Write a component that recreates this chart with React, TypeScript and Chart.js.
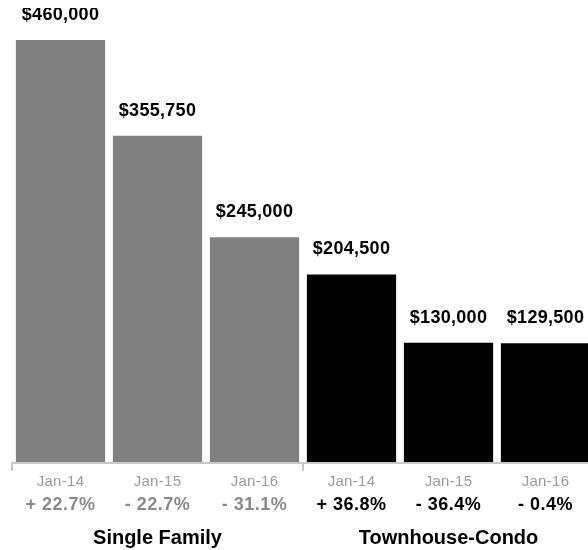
import React, { useEffect, useRef } from "react";
import { Chart, registerables } from "chart.js";

Chart.register(...registerables);

const categories = ["Jan-14", "Jan-15", "Jan-16", "Jan-14", "Jan-15", "Jan-16"];
const groups = ["Single Family", "Townhouse-Condo"];
const singleFamilyValues = [460000, 355750, 245000];
const townhouseValues = [204500, 130000, 129500];
const singleFamilyChanges = ["+ 22.7%", "- 22.7%", "- 31.1%"];
const townhouseChanges = ["+ 36.8%", "- 36.4%", "- 0.4%"];

const FONT = '"Liberation Sans", Arial, Helvetica, sans-serif';
const GRAY_BAR = "#808080";
const BLACK_BAR = "#000000";

const values = [...singleFamilyValues, ...townhouseValues];
const changes = [...singleFamilyChanges, ...townhouseChanges];
const barColors = [
  ...singleFamilyValues.map(() => GRAY_BAR),
  ...townhouseValues.map(() => BLACK_BAR),
];
const changeColors = [
  ...singleFamilyChanges.map(() => "#8a8a8a"),
  ...townhouseChanges.map(() => "#000000"),
];

const labelsPlugin = {
  id: "customLabels",
  afterDraw(chart: any) {
    const ctx = chart.ctx as CanvasRenderingContext2D;
    const area = chart.chartArea;
    const xScale = chart.scales.x;
    const meta = chart.getDatasetMeta(0);
    const n = categories.length;
    const catW = (area.right - area.left) / n;
    ctx.save();

    // value labels
    ctx.textAlign = "center";
    ctx.textBaseline = "alphabetic";
    ctx.fillStyle = "#000";
    ctx.font = `bold 18px ${FONT}`;
    (ctx as any).letterSpacing = "0.3px";
    meta.data.forEach((bar: any, i: number) => {
      const v = values[i];
      ctx.fillText("$" + v.toLocaleString("en-US"), bar.x, bar.y - 20);
    });

    // axis line
    const yLine = area.bottom + 1;
    ctx.strokeStyle = "#c8c8c8";
    ctx.lineWidth = 2;
    ctx.beginPath();
    ctx.moveTo(area.left - 1, yLine);
    ctx.lineTo(area.right, yLine);
    ctx.stroke();

    // group boundary ticks
    const bounds = [0, singleFamilyValues.length, n];
    bounds.forEach((b) => {
      const x = xScale.getPixelForValue(Math.min(b, n - 1)) + (b === n ? catW / 2 : -catW / 2);
      ctx.beginPath();
      ctx.moveTo(x, yLine - 1);
      ctx.lineTo(x, yLine + 8);
      ctx.stroke();
    });

    // category labels
    ctx.font = `15px ${FONT}`;
    (ctx as any).letterSpacing = "0.3px";
    ctx.fillStyle = "#9a9a9a";
    categories.forEach((c, i) => {
      ctx.fillText(c, xScale.getPixelForValue(i), area.bottom + 24);
    });

    // change labels
    ctx.font = `bold 18px ${FONT}`;
    (ctx as any).letterSpacing = "0.5px";
    changes.forEach((c, i) => {
      ctx.fillStyle = changeColors[i];
      ctx.fillText(c, xScale.getPixelForValue(i), area.bottom + 48);
    });

    // group labels
    ctx.font = `bold 20px ${FONT}`;
    (ctx as any).letterSpacing = "0px";
    ctx.fillStyle = "#000";
    const groupRanges = [
      [0, singleFamilyValues.length - 1],
      [singleFamilyValues.length, n - 1],
    ];
    groups.forEach((g, gi) => {
      const [a, b] = groupRanges[gi];
      const x = (xScale.getPixelForValue(a) + xScale.getPixelForValue(b)) / 2;
      ctx.fillText(g, x, area.bottom + 82);
    });

    ctx.restore();
  },
};

export default function App() {
  const ref = useRef<HTMLCanvasElement>(null);

  useEffect(() => {
    document.documentElement.style.overflow = "hidden";
    const canvas = ref.current!;
    const chart = new Chart(canvas, {
      type: "bar",
      data: {
        labels: categories,
        datasets: [
          {
            data: values,
            backgroundColor: barColors,
            borderWidth: 0,
            barPercentage: 0.92,
            categoryPercentage: 1,
          },
        ],
      },
      options: {
        animation: false,
        responsive: false,
        devicePixelRatio: 1,
        layout: { padding: { left: 4, right: 4, top: 32, bottom: 88 } },
        plugins: {
          legend: { display: false },
          tooltip: { enabled: false },
        },
        scales: {
          x: { display: false, offset: true },
          y: { display: false, min: 0, max: 460000 },
        },
      },
      plugins: [labelsPlugin],
    });
    return () => chart.destroy();
  }, []);

  return (
    <div style={{ position: "absolute", left: 8, top: 8, width: 590, height: 542 }}>
      <canvas ref={ref} width={590} height={542} style={{ display: "block" }} />
    </div>
  );
}
